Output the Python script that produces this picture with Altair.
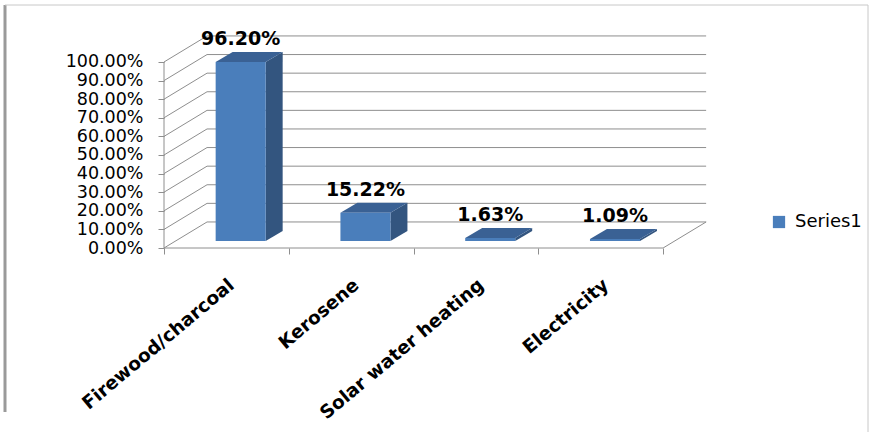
import json
import altair as alt
import pandas as pd

# ---------------- data ----------------
CATEGORIES = ["Firewood/charcoal", "Kerosene", "Solar water heating", "Electricity"]
VALUES = [0.9620, 0.1522, 0.0163, 0.0109]
SERIES = "Series1"
Y_TICKS = [0.0, 0.1, 0.2, 0.3, 0.4, 0.5, 0.6, 0.7, 0.8, 0.9, 1.0]

# ---------------- style / geometry ----------------
N = len(CATEGORIES)
X_MAX, Y_MAX = 4.4, 1.172
W, H = 549, 218
PAD = {"left": 164, "top": 30, "right": 165, "bottom": 186}
DEPTH_X, DEPTH_Y = 0.345, 0.14      # depth of the 3-D box (wall offset)
BAR_OFF, BAR_W = 0.414, 0.401       # bar front face within a category
LIFT = 0.0377                        # bar front face sits a bit into the depth
SIDE_X, SIDE_Y = 0.136, 0.054        # bar depth
FRONT, SIDE, TOP = "#4A7EBB", "#33557F", "#3A6194"
GRID = "#8E8E8E"
FONT = "DejaVu Sans"

xs = alt.Scale(domain=[0, X_MAX], nice=False, zero=False)
ys = alt.Scale(domain=[0, Y_MAX], nice=False, zero=False)

label_expr = json.dumps(CATEGORIES + [""]) + "[datum.value]"

X_AX = alt.Axis(
    values=[0, 1, 2, 3, 4], labelExpr=label_expr, title=None,
    labelAngle=-40, labelAlign="right", labelBaseline="middle",
    labelOffset=67, labelPadding=28, tickSize=6, tickColor=GRID,
    domain=False, grid=False, labelFont=FONT, labelFontWeight="bold",
    labelFontSize=18.5, labelColor="#000000", labelOverlap=False,
    labelFlush=False, labelBound=False, labelLimit=0)
Y_AX = alt.Axis(
    values=Y_TICKS, format=".2%", title=None, tickSize=6, tickColor=GRID,
    domain=False, grid=False, labelFont=FONT, labelFontSize=17.5,
    labelPadding=15, labelColor="#000000", labelOverlap=False,
    labelFlush=False, labelBound=False, labelLimit=0)


def X(field):
    return alt.X(field, scale=xs, axis=X_AX)


def Y(field):
    return alt.Y(field, scale=ys, axis=Y_AX)


# ---------------- derived tables ----------------
back = pd.DataFrame({"x": DEPTH_X, "x2": N + DEPTH_X,
                     "y": [t + DEPTH_Y for t in Y_TICKS]})
left = pd.DataFrame({"x": 0.0, "x2": DEPTH_X, "y": Y_TICKS,
                     "y2": [t + DEPTH_Y for t in Y_TICKS]})
floor = pd.DataFrame({"x": [0.0, float(N)], "x2": [float(N), N + DEPTH_X],
                      "y": [0.0, 0.0], "y2": [0.0, DEPTH_Y]})
yaxis_line = pd.DataFrame({"x": [0.0], "y": [0.0], "y2": [1.0]})

front_rows, side_rows, top_rows, label_rows = [], [], [], []
for i, (c, v) in enumerate(zip(CATEGORIES, VALUES)):
    x0 = i + BAR_OFF
    x1 = x0 + BAR_W
    front_rows.append({"cat": c, "x": x0, "x1": x1, "y": LIFT, "yt": v + LIFT,
                       "series": SERIES, "value": v})
    side_rows += [{"cat": c, "x": x1, "y": LIFT, "hi": v + LIFT},
                  {"cat": c, "x": x1 + SIDE_X, "y": LIFT + SIDE_Y, "hi": v + LIFT + SIDE_Y}]
    top_rows += [{"cat": c, "y": v + LIFT, "x": x0, "xb": x1},
                 {"cat": c, "y": v + LIFT + SIDE_Y, "x": x0 + SIDE_X, "xb": x1 + SIDE_X}]
    label_rows.append({"cat": c, "x": x0 + BAR_W / 2, "y": v + LIFT + SIDE_Y, "value": v})

front = pd.DataFrame(front_rows)
side = pd.DataFrame(side_rows)
top = pd.DataFrame(top_rows)
labels = pd.DataFrame(label_rows)

# ---------------- layers ----------------
back_l = alt.Chart(back).mark_rule(color=GRID, strokeWidth=1).encode(
    x=X("x:Q"), x2="x2:Q", y=Y("y:Q"))

left_l = alt.Chart(left).mark_rule(color=GRID, strokeWidth=1).encode(
    x=X("x:Q"), x2="x2:Q", y=Y("y:Q"), y2="y2:Q")

floor_l = alt.Chart(floor).mark_rule(color=GRID, strokeWidth=1).encode(
    x=X("x:Q"), x2="x2:Q", y=Y("y:Q"), y2="y2:Q")

yline_l = alt.Chart(yaxis_line).mark_rule(color=GRID, strokeWidth=1).encode(
    x=X("x:Q"), y=Y("y:Q"), y2="y2:Q")

side_l = alt.Chart(side).mark_area(color=SIDE, orient="vertical").encode(
    x=X("x:Q"), y=Y("y:Q"), y2="hi:Q", detail="cat:N")

top_l = alt.Chart(top).mark_area(color=TOP, orient="horizontal").encode(
    y=Y("y:Q"), x=X("x:Q"), x2="xb:Q", detail="cat:N")

front_l = alt.Chart(front).mark_rect().encode(
    x=X("x:Q"), x2="x1:Q", y=Y("y:Q"), y2="yt:Q",
    color=alt.Color("series:N", scale=alt.Scale(range=[FRONT]), legend=alt.Legend(
        title=None, orient="none", legendX=606, legendY=183,
        symbolType="square", symbolSize=150, symbolStrokeWidth=0,
        labelFont=FONT, labelFontSize=18, labelColor="#000000", labelOffset=7)))

text_l = alt.Chart(labels).mark_text(
    font=FONT, fontSize=19, fontWeight="bold", color="#000000",
    baseline="bottom", align="center", dy=-3).encode(
    x=X("x:Q"), y=Y("y:Q"),
    text=alt.Text("value:Q", format=".2%"))

# outer frame of the chart (pixel positions relative to plot origin)
one = pd.DataFrame({"k": [0]})
ox, oy = PAD["left"], PAD["top"]
frame_left = alt.Chart(one).mark_rule(color="#9A9A9A", strokeWidth=3).encode(
    x=alt.value(5 - ox), y=alt.value(5 - oy), y2=alt.value(412 - oy))
frame_top = alt.Chart(one).mark_rule(color="#C8C8C8", strokeWidth=1).encode(
    x=alt.value(5 - ox), x2=alt.value(868 - ox), y=alt.value(5 - oy))
frame_right = alt.Chart(one).mark_rule(color="#C8C8C8", strokeWidth=1).encode(
    x=alt.value(868 - ox), y=alt.value(5 - oy), y2=alt.value(432 - oy))

chart = alt.layer(
    back_l, left_l, floor_l, yline_l, side_l, top_l, front_l, text_l,
    frame_left, frame_top, frame_right
).properties(
    width=W, height=H, padding=PAD,
    autosize=alt.AutoSizeParams(type="none"),
    background="white",
).configure_view(stroke=None)

chart.save("out.html", embed_options={"renderer": "svg", "actions": False})
